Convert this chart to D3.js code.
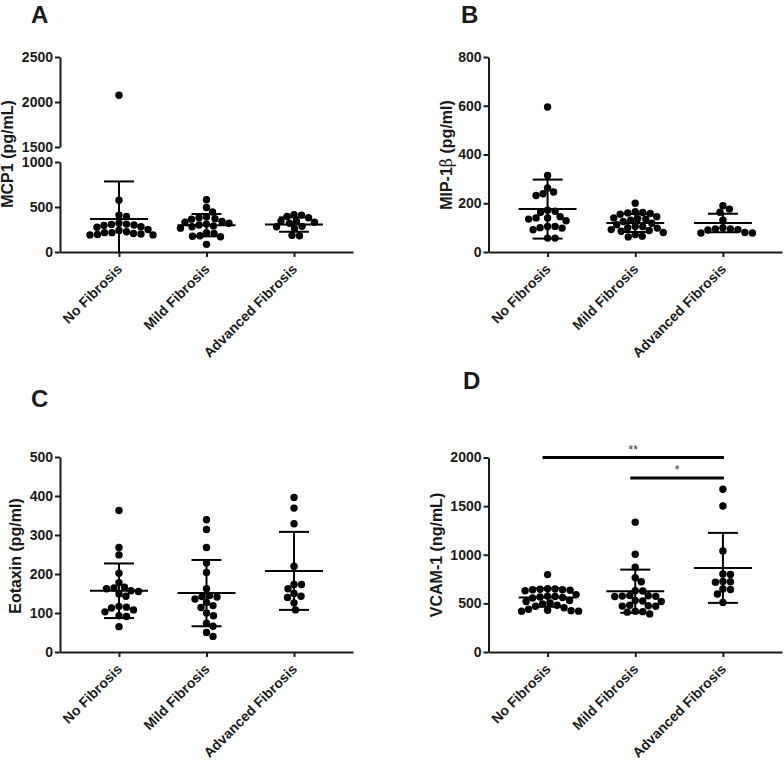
<!DOCTYPE html>
<html>
<head>
<meta charset="utf-8">
<script src="https://cdn.jsdelivr.net/npm/d3@7"></script>
<style>
  body { margin: 0; background: #fff; }
  svg { display: block; font-family: "Liberation Sans", Arial, sans-serif; }
</style>
</head>
<body>
<svg id="chart" width="784" height="764"></svg>
<script>
// groups on every x axis
const groups = ["No Fibrosis", "Mild Fibrosis", "Advanced Fibrosis"];

// A - MCP1 (pg/mL), broken axis
const mcp1NoFib = [2075, 575, 410, 395, 320, 310, 305, 300, 295, 280, 275, 250, 240, 225, 215, 205, 195, 190, 190, 200, 215];
const mcp1Mild = [580, 495, 445, 390, 380, 370, 365, 340, 330, 320, 310, 300, 290, 280, 265, 215, 205, 180, 175, 170, 85];
const mcp1Adv = [415, 410, 395, 380, 345, 340, 330, 320, 285, 280, 260, 185, 180];
const mcp1Mean = [367, 298, 305];
const mcp1Sd = [417, 124, 80];

// B - MIP-1beta (pg/ml)
const mipNoFib = [595, 314, 263, 246, 239, 232, 171, 167, 163, 145, 140, 140, 135, 128, 105, 105, 100, 98, 91, 57, 57];
const mipMild = [200, 165, 162, 160, 158, 155, 145, 140, 137, 135, 130, 125, 118, 112, 105, 104, 100, 98, 92, 88, 85, 80, 72, 65, 62];
const mipAdv = [190, 176, 163, 130, 100, 95, 95, 92, 90, 80, 78, 78];
const mipMean = [176, 119, 119];
const mipSd = [121, 37, 38];

// C - Eotaxin (pg/ml)
const eotNoFib = [363, 268, 249, 202, 178, 166, 164, 162, 157, 155, 149, 143, 117, 115, 113, 108, 103, 93, 91, 65];
const eotMild = [339, 314, 268, 228, 204, 162, 145, 142, 141, 136, 127, 119, 114, 100, 93, 74, 66, 50, 40];
const eotAdv = [396, 369, 329, 220, 173, 173, 162, 150, 143, 140, 126, 108];
const eotMean = [157, 151, 208];
const eotSd = [70, 85, 100];

// D - VCAM-1 (ng/mL)
const vcamNoFib = [796, 650, 648, 645, 640, 640, 635, 630, 590, 575, 570, 565, 560, 555, 530, 520, 505, 495, 480, 470, 455, 440, 430, 425, 420, 420];
const vcamMild = [1335, 1005, 871, 764, 723, 631, 628, 580, 578, 575, 572, 570, 530, 525, 520, 480, 476, 472, 470, 420, 415, 410, 392];
const vcamAdv = [1674, 1502, 1039, 802, 798, 725, 722, 718, 648, 642, 597, 510];
const vcamMean = [560, 625, 865];
const vcamSd = [95, 222, 360];
// significance brackets: [from group, to group, value, label]
const vcamSig = [[0, 2, 2000, "**"], [1, 2, 1790, "*"]];

const svg = d3.select("#chart");
const ink = "#1a1a1a";
const r = 3.7;

const panels = [
    { letter: "A", lx: 31, ly: 23, x0: 60, x1: 353, yBottom: 252,
      segments: [ { domain: [0, 1000], range: [252, 162], ticks: [0, 500, 1000] },
                  { domain: [1500, 2500], range: [147, 57], ticks: [1500, 2000, 2500] } ],
      title: ["MCP1 (pg/mL)"], tx: 13, ty: 154,
      data: [mcp1NoFib, mcp1Mild, mcp1Adv], mean: mcp1Mean, sd: mcp1Sd },
    { letter: "B", lx: 461, ly: 23, x0: 488.5, x1: 782, yBottom: 252,
      segments: [ { domain: [0, 800], range: [252, 57], ticks: [0, 200, 400, 600, 800] } ],
      title: ["MIP-1", "β", " (pg/ml)"], tx: 452, ty: 155,
      data: [mipNoFib, mipMild, mipAdv], mean: mipMean, sd: mipSd },
    { letter: "C", lx: 31, ly: 407, x0: 60, x1: 353, yBottom: 652,
      segments: [ { domain: [0, 500], range: [652, 457], ticks: [0, 100, 200, 300, 400, 500] } ],
      title: ["Eotaxin (pg/ml)"], tx: 21, ty: 556,
      data: [eotNoFib, eotMild, eotAdv], mean: eotMean, sd: eotSd },
    { letter: "D", lx: 463, ly: 389, x0: 488.5, x1: 782, yBottom: 652,
      segments: [ { domain: [0, 2000], range: [652, 457.5], ticks: [0, 500, 1000, 1500, 2000] } ],
      title: ["VCAM-1 (ng/mL)"], tx: 442, ty: 555,
      data: [vcamNoFib, vcamMild, vcamAdv], mean: vcamMean, sd: vcamSd, sig: vcamSig }
];

// simple beeswarm: place each dot as close to the centre line as possible
function swarm(values, y) {
    const pts = values.map(v => ({ v, y: y(v) })).sort((a, b) => a.y - b.y);
    const placed = [];
    const minD = 2 * r * 0.97;
    pts.forEach(p => {
        for (let k = 0; k < 400; k++) {
            const dx = (k % 2 ? 1 : -1) * Math.ceil(k / 2) * 0.5;
            if (placed.every(q => (q.dx - dx) ** 2 + (q.y - p.y) ** 2 >= minD * minD)) {
                p.dx = dx;
                break;
            }
        }
        placed.push(p);
    });
    return pts;
}

panels.forEach(p => {
    const g = svg.append("g");

    // piecewise y scale (handles broken axis in A)
    const scales = p.segments.map(s => d3.scaleLinear().domain(s.domain).range(s.range));
    const y = v => {
        for (let i = scales.length - 1; i >= 0; i--) {
            if (i === 0 || v >= (p.segments[i - 1].domain[1] + p.segments[i].domain[0]) / 2) return scales[i](v);
        }
    };
    const x = d3.scalePoint().domain(groups).range([p.x0, p.x1]).padding(0.674);

    // panel letter
    g.append("text").attr("x", p.lx).attr("y", p.ly)
        .attr("font-size", 24).attr("font-weight", "bold").attr("fill", ink)
        .text(p.letter);

    // y axis segments
    scales.forEach((s, i) => {
        const ax = g.append("g").attr("transform", `translate(${p.x0},0)`)
            .call(d3.axisLeft(s).tickValues(p.segments[i].ticks).tickFormat(d3.format("d"))
                .tickSize(5).tickPadding(2).tickSizeOuter(0));
        ax.select(".domain").attr("stroke", ink).attr("stroke-width", 2);
        ax.selectAll(".tick line").attr("stroke", ink).attr("stroke-width", 2);
        ax.selectAll(".tick text").attr("font-size", 14).attr("font-weight", "bold")
            .attr("fill", ink).attr("font-family", "Liberation Sans, Arial, sans-serif");
    });

    // x axis
    const xa = g.append("g").attr("transform", `translate(0,${p.yBottom})`)
        .call(d3.axisBottom(x).tickSize(5).tickSizeOuter(0).tickFormat(""));
    xa.select(".domain").attr("stroke", ink).attr("stroke-width", 2);
    xa.selectAll(".tick line").attr("stroke", ink).attr("stroke-width", 2);

    // rotated category labels
    g.selectAll(".cat").data(groups).join("text")
        .attr("text-anchor", "end")
        .attr("transform", d => `translate(${x(d) + 4},${p.yBottom + 18}) rotate(-45)`)
        .attr("font-size", 14).attr("font-weight", "bold").attr("fill", ink)
        .text(d => d);

    // y title
    const t = g.append("text")
        .attr("transform", `translate(${p.tx},${p.ty}) rotate(-90)`)
        .attr("text-anchor", "middle")
        .attr("font-size", 16).attr("font-weight", "bold").attr("fill", ink);
    p.title.forEach(part => {
        const ts = t.append("tspan").text(part);
        if (part === "β") ts.attr("font-weight", "normal").attr("font-family", "DejaVu Serif, serif");
    });

    // dots
    p.data.forEach((vals, gi) => {
        const cx = x(groups[gi]);
        g.append("g").selectAll("circle").data(swarm(vals, y)).join("circle")
            .attr("cx", d => cx + d.dx).attr("cy", d => d.y).attr("r", r).attr("fill", "#000");
    });

    // mean and SD bars
    groups.forEach((grp, gi) => {
        const cx = x(grp);
        const m = p.mean[gi], s = p.sd[gi];
        const lo = Math.max(0, m - s), hi = m + s;
        const eb = g.append("g").attr("stroke", "#000").attr("stroke-width", 2);
        eb.append("line").attr("x1", cx - 29).attr("x2", cx + 29).attr("y1", y(m)).attr("y2", y(m));
        eb.append("line").attr("x1", cx).attr("x2", cx).attr("y1", y(hi)).attr("y2", y(lo));
        eb.append("line").attr("x1", cx - 15).attr("x2", cx + 15).attr("y1", y(hi)).attr("y2", y(hi));
        if (m - s > 0) eb.append("line").attr("x1", cx - 15).attr("x2", cx + 15).attr("y1", y(lo)).attr("y2", y(lo));
    });

    // significance brackets
    (p.sig || []).forEach(([a, b, v, lab]) => {
        const xa0 = x(groups[a]) - 5, xb0 = x(groups[b]) + 1;
        g.append("line").attr("x1", xa0).attr("x2", xb0).attr("y1", y(v)).attr("y2", y(v))
            .attr("stroke", "#000").attr("stroke-width", 3);
        g.append("text").attr("x", (xa0 + xb0) / 2).attr("y", y(v) - 4)
            .attr("text-anchor", "middle").attr("font-size", 12).attr("fill", "#333")
            .text(lab);
    });
});
</script>
</body>
</html>
